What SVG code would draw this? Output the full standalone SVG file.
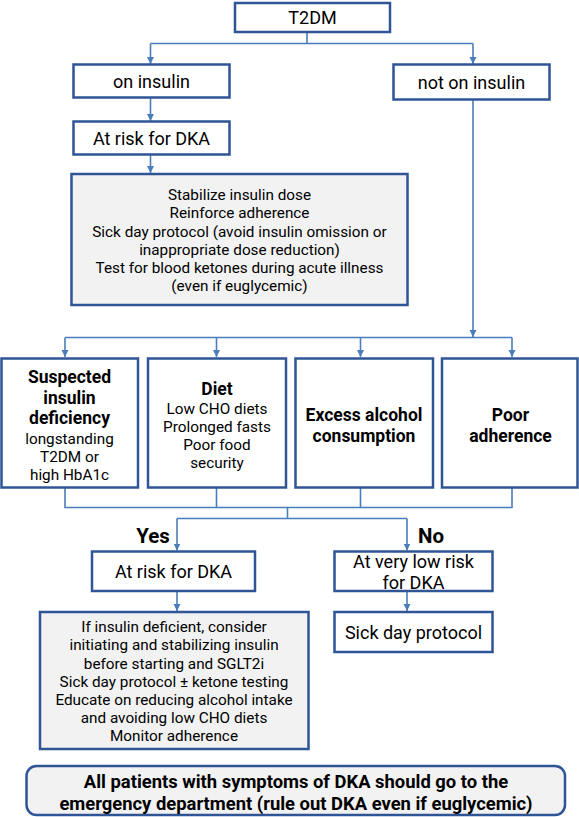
<svg xmlns="http://www.w3.org/2000/svg" width="579" height="817" viewBox="0 0 579 817">
<defs>
<marker id="ah" markerWidth="8" markerHeight="8" refX="7" refY="4" orient="auto" markerUnits="userSpaceOnUse">
<path d="M0,0.5 L7,4 L0,7.5 Z" fill="#4A7EBB"/>
</marker>
<style>
.box{fill:#ffffff;stroke:#2F5597;stroke-width:2.5}
.gbox{fill:#F2F2F2;stroke:#2F5597;stroke-width:2.5}
.con{fill:none;stroke:#4A7EBB;stroke-width:1.6}
.arr{fill:none;stroke:#4A7EBB;stroke-width:1.6;marker-end:url(#ah)}
text{font-family:Roboto,"Noto Sans","Liberation Sans",sans-serif;fill:#000;text-anchor:middle}
.t16{font-size:18px}
.t15{font-size:15.3px}
.b{font-weight:bold;font-size:17.5px}
.bb{font-weight:bold;font-size:18.4px}
.yn{font-weight:bold;font-size:20.5px}
</style>
</defs>
<rect width="579" height="817" fill="#ffffff"/>
<g id="connectors">
<path class="con" d="M307,32 V43.5 M150.5,43.5 H473"/>
<path class="arr" d="M150.5,43.5 V64"/>
<path class="arr" d="M473,43.5 V64"/>
<path class="arr" d="M150.5,98 V121"/>
<path class="arr" d="M150.5,155 V173"/>
<path class="arr" d="M473,100 V337"/>
<path class="con" d="M65,337.5 H512"/>
<path class="arr" d="M65,337.5 V357"/>
<path class="arr" d="M216.5,337.5 V357"/>
<path class="arr" d="M360.5,337.5 V357"/>
<path class="arr" d="M512,337.5 V357"/>
<path class="con" d="M65,488 V507.5 H512 V488 M216.5,488 V507.5 M360.5,488 V507.5 M287.5,507.5 V518.5 M177,518.5 H407"/>
<path class="arr" d="M177,518.5 V550.5"/>
<path class="arr" d="M407,518.5 V550.5"/>
<path class="arr" d="M177,591 V611"/>
<path class="arr" d="M407,591 V611"/>
</g>
<g id="t2dm"><rect class="box" x="235" y="3" width="155" height="29"/><text class="t16" x="312.5" y="23.5">T2DM</text></g>
<g id="on-insulin"><rect class="box" x="73.5" y="64.5" width="156" height="33"/><text class="t16" x="151.5" y="88">on insulin</text></g>
<g id="not-on-insulin"><rect class="box" x="393.5" y="64.5" width="156" height="35"/><text class="t16" x="471.5" y="88.5">not on insulin</text></g>
<g id="at-risk-1"><rect class="box" x="73.5" y="121.5" width="156" height="33"/><text class="t16" x="151.5" y="144.5">At risk for DKA</text></g>
<g id="stabilize"><rect class="gbox" x="71.5" y="174" width="336" height="131"/>
<text class="t15"><tspan x="239.5" y="200">Stabilize insulin dose</tspan><tspan x="239.5" y="218">Reinforce adherence</tspan><tspan x="239.5" y="236.5">Sick day protocol (avoid insulin omission or</tspan><tspan x="239.5" y="254.5">inappropriate dose reduction)</tspan><tspan x="239.5" y="272.5">Test for blood ketones during acute illness</tspan><tspan x="239.5" y="290.5">(even if euglycemic)</tspan></text></g>
<g id="insulin-deficiency"><rect class="box" x="1.5" y="358.5" width="136.5" height="129"/>
<text class="b"><tspan x="69.5" y="382.5">Suspected</tspan><tspan x="69.5" y="403.5">insulin</tspan><tspan x="69.5" y="424">deficiency</tspan></text>
<text class="t15"><tspan x="69.5" y="443.5">longstanding</tspan><tspan x="69.5" y="462">T2DM or</tspan><tspan x="69.5" y="480">high HbA1c</tspan></text></g>
<g id="diet"><rect class="box" x="148" y="358.5" width="138" height="129"/>
<text class="b" x="217" y="395">Diet</text>
<text class="t15"><tspan x="217" y="413.5">Low CHO diets</tspan><tspan x="217" y="432">Prolonged fasts</tspan><tspan x="217" y="450">Poor food</tspan><tspan x="217" y="468">security</tspan></text></g>
<g id="alcohol"><rect class="box" x="295.5" y="358.5" width="137.5" height="129"/>
<text class="b"><tspan x="364" y="421">Excess alcohol</tspan><tspan x="364" y="442">consumption</tspan></text></g>
<g id="adherence"><rect class="box" x="442" y="358.5" width="135.5" height="129"/>
<text class="b"><tspan x="510.5" y="421">Poor</tspan><tspan x="510.5" y="442">adherence</tspan></text></g>
<text class="yn" x="153" y="543">Yes</text>
<text class="yn" x="431" y="543">No</text>
<g id="at-risk-2"><rect class="box" x="92" y="551.5" width="163" height="39.5"/><text class="t16" x="173.5" y="577.5">At risk for DKA</text></g>
<g id="very-low-risk"><rect class="box" x="334.5" y="551.5" width="158" height="39.5"/><text class="t16"><tspan x="413.5" y="568">At very low risk</tspan><tspan x="413.5" y="588.5">for DKA</tspan></text></g>
<g id="sick-day"><rect class="box" x="334.5" y="612" width="158" height="40"/><text class="t16" x="413.5" y="638.5">Sick day protocol</text></g>
<g id="if-insulin"><rect class="gbox" x="40" y="612" width="268.5" height="137"/>
<text class="t15"><tspan x="174" y="632">If insulin deficient, consider</tspan><tspan x="174" y="650">initiating and stabilizing insulin</tspan><tspan x="174" y="668.5">before starting and SGLT2i</tspan><tspan x="174" y="686.5">Sick day protocol ± ketone testing</tspan><tspan x="174" y="704.5">Educate on reducing alcohol intake</tspan><tspan x="174" y="722.5">and avoiding low CHO diets</tspan><tspan x="174" y="740.5">Monitor adherence</tspan></text></g>
<g id="all-patients"><rect class="gbox" x="26.5" y="766" width="538.5" height="49" rx="10" ry="10"/>
<text class="bb"><tspan x="296" y="787.5">All patients with symptoms of DKA should go to the</tspan><tspan x="296" y="809.5">emergency department (rule out DKA even if euglycemic)</tspan></text></g>
</svg>
